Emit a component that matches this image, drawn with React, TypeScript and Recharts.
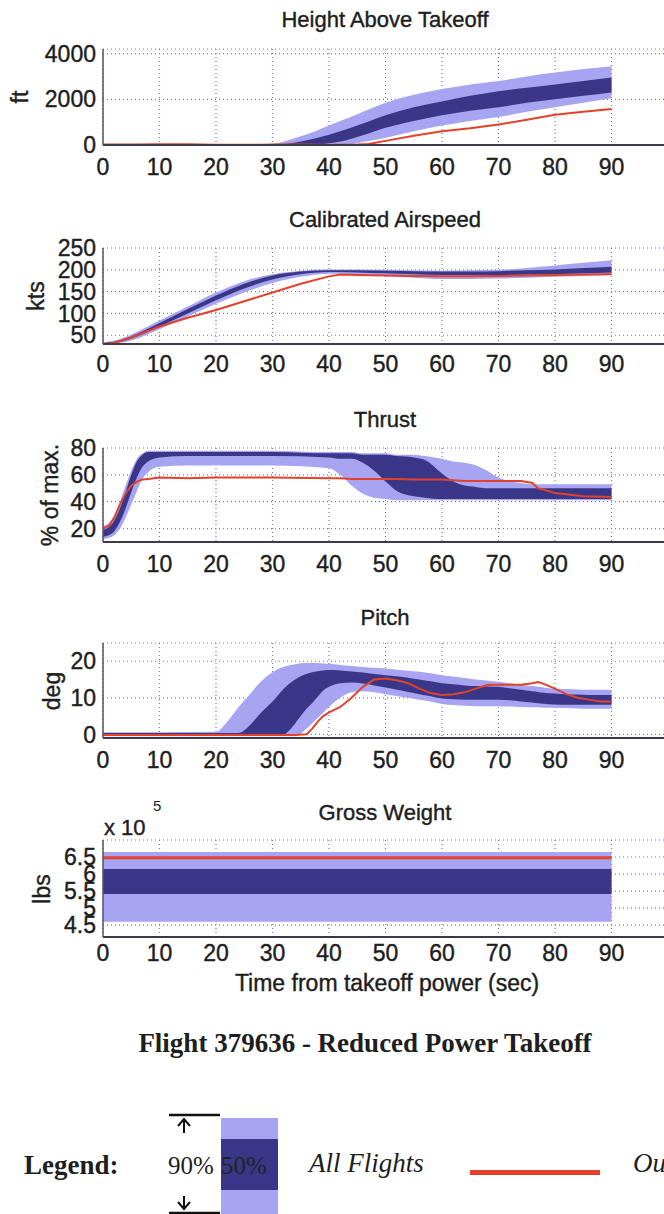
import { ComposedChart, Area, Line, XAxis, YAxis, CartesianGrid } from 'recharts';

const SANS = "'Liberation Sans', Arial, sans-serif";
const SERIF = "'Liberation Serif', 'Times New Roman', serif";
const LIGHT = '#a7a4f2';
const DARK = '#3a3788';
const RED = '#e3412a';
const GRID = '#7474c6';
const TEXT = '#1e1e1e';

const X_TICKS = [0, 10, 20, 30, 40, 50, 60, 70, 80, 90];

// Height above takeoff (ft)
const HEIGHT_T = [0, 5, 10, 15, 20, 25, 28, 30, 32, 35, 38, 40, 42, 45, 47, 50, 55, 60, 65, 70, 75, 80, 85, 90];
const HEIGHT_HI90 = [0, 0, 0, 0, 0, 0, 0, 40, 150, 380, 650, 850, 1050, 1350, 1550, 1850, 2200, 2450, 2650, 2800, 3000, 3170, 3320, 3450];
const HEIGHT_HI50 = [0, 0, 0, 0, 0, 0, 0, 0, 40, 150, 320, 450, 600, 850, 1030, 1300, 1650, 1900, 2150, 2350, 2500, 2650, 2800, 2950];
const HEIGHT_LO50 = [0, 0, 0, 0, 0, 0, 0, 0, 0, 0, 30, 80, 150, 350, 500, 750, 1050, 1300, 1500, 1650, 1850, 2000, 2150, 2300];
const HEIGHT_LO90 = [0, 0, 0, 0, 0, 0, 0, 0, 0, 0, 0, 0, 0, 80, 170, 320, 600, 850, 1050, 1230, 1450, 1650, 1850, 2050];
const HEIGHT_OUT = [20, 25, 35, 30, 15, 10, 15, 20, 20, 20, 15, 15, 15, 20, 40, 180, 400, 600, 730, 900, 1100, 1320, 1450, 1580];

// Calibrated airspeed (kts)
const CAS_T = [0, 2, 5, 10, 15, 20, 25, 30, 35, 40, 42, 45, 50, 55, 60, 65, 70, 75, 80, 85, 90];
const CAS_HI90 = [34, 38, 52, 84, 116, 148, 174, 190, 198, 201, 201, 201, 200, 199, 198, 199, 200, 204, 210, 216, 222];
const CAS_HI50 = [32, 35, 48, 78, 110, 141, 168, 187, 196, 199, 199, 199, 198, 197, 196, 196, 197, 199, 201, 204, 207];
const CAS_LO50 = [30, 32, 42, 70, 100, 130, 157, 178, 190, 195, 195, 194, 192, 190, 188, 188, 188, 189, 190, 192, 194];
const CAS_LO90 = [30, 31, 38, 64, 93, 122, 148, 170, 184, 191, 191, 190, 186, 182, 179, 179, 180, 182, 184, 186, 188];
const CAS_OUT = [30, 33, 45, 70, 90, 108, 128, 148, 168, 185, 189, 188, 187, 186, 185, 185, 186, 187, 188, 189, 190];

// Thrust (% of max.)
const THR_T = [0, 1, 2, 3, 4, 5, 6, 7, 8, 10, 15, 20, 30, 40, 42, 44, 46, 48, 50, 52, 55, 57, 60, 62, 64, 66, 68, 70, 72, 74, 76, 77, 78, 80, 85, 90];
const THR_HI90 = [22, 24, 30, 40, 52, 63, 72, 76, 78, 78, 78, 78, 78, 77, 77, 77, 76, 76, 76, 75, 75, 74, 72, 70, 69, 67, 63, 58, 55, 54, 53, 53, 53, 53, 53, 53];
const THR_HI50 = [19, 21, 26, 35, 47, 60, 70, 75, 77, 77, 77, 77, 77, 76, 76, 76, 75, 75, 75, 74, 73, 71, 61, 55, 52, 51, 50, 50, 50, 50, 50, 50, 50, 50, 50, 50];
const THR_LO50 = [14, 15, 18, 25, 35, 47, 58, 66, 70, 73, 74, 74, 74, 73, 72, 72, 69, 63, 55, 48, 44, 43, 42, 42, 42, 42, 42, 42, 42, 42, 42, 42, 42, 42, 42, 42];
const THR_LO90 = [12, 13, 15, 20, 28, 38, 48, 57, 62, 66, 67, 67, 67, 65, 60, 52, 46, 43, 42, 41, 41, 41, 41, 41, 41, 41, 41, 41, 41, 41, 41, 41, 41, 41, 41, 41];
const THR_OUT = [20, 22, 28, 38, 46, 52, 55, 56.5, 57, 58, 57.5, 58, 58, 57.5, 57.5, 57, 57, 57, 57, 57, 56.5, 56.5, 56.5, 56, 55.5, 55.5, 55.5, 55.5, 55.5, 55.5, 54, 50, 49, 46.5, 44, 43.5];

// Pitch (deg)
const PITCH_T = [0, 10, 20, 22, 24, 26, 28, 30, 32, 34, 36, 37, 38, 39, 40, 42, 44, 46, 48, 50, 52, 54, 56, 58, 60, 62, 64, 66, 68, 70, 72, 74, 76, 77, 78, 80, 82, 84, 86, 88, 90];
const PITCH_HI90 = [0.6, 0.6, 0.7, 3.5, 7.5, 11, 14.5, 17, 18.5, 19.2, 19.5, 19.5, 19.5, 19.4, 19.3, 19, 18.7, 18.4, 18.2, 18, 17.7, 17.4, 17.1, 16.7, 16.2, 15.8, 15.4, 15, 14.7, 14.4, 14, 13.6, 13.2, 13, 12.8, 12.5, 12.4, 12.3, 12.2, 12.2, 12.2];
const PITCH_HI50 = [0.4, 0.4, 0.4, 0.4, 0.4, 2.5, 6, 9, 12.5, 15, 16.5, 17, 17.3, 17.5, 17.6, 17.5, 17.2, 16.9, 16.5, 16.2, 15.9, 15.5, 15, 14.5, 14, 13.7, 13.4, 13.2, 13.1, 13, 12.6, 12.2, 11.8, 11.6, 11.4, 11.2, 11, 10.9, 10.8, 10.8, 10.8];
const PITCH_LO50 = [-0.3, -0.3, -0.3, -0.3, -0.3, -0.3, -0.3, -0.3, 0, 3, 7, 8.5, 10.3, 12, 13, 14, 14.2, 13.9, 13.4, 12.8, 12.2, 11.6, 11, 10.4, 9.8, 9.6, 9.5, 9.5, 9.5, 9.5, 9.3, 9, 8.7, 8.5, 8.4, 8.2, 8.1, 8.1, 8.1, 8.1, 8.1];
const PITCH_LO90 = [-0.5, -0.5, -0.5, -0.5, -0.5, -0.5, -0.5, -0.5, -0.5, -0.5, 1.5, 3, 4.5, 6, 7.5, 10, 11.5, 11.8, 11.5, 11, 10.5, 10, 9.5, 9, 8.3, 8, 7.8, 7.7, 7.7, 7.7, 7.6, 7.5, 7.4, 7.4, 7.3, 7.3, 7.2, 7.1, 7, 7, 7];
const PITCH_OUT = [-0.2, -0.2, -0.2, -0.2, -0.2, -0.2, -0.2, -0.2, -0.2, -0.2, 0, 1.5, 3.5, 5, 6, 7.5, 10, 13, 15, 15.3, 14.8, 14, 12.5, 11.3, 10.8, 11, 11.5, 12.5, 13.5, 13.6, 13.6, 13.6, 14, 14.3, 13.8, 12.5, 11, 10, 9.5, 9, 9];

// Gross weight (x 10^5 lbs)
const GW_T = [0, 30, 60, 90];
const GW_HI90 = [6.65, 6.65, 6.65, 6.65];
const GW_HI50 = [6.15, 6.15, 6.15, 6.15];
const GW_LO50 = [5.41, 5.41, 5.41, 5.41];
const GW_LO90 = [4.6, 4.6, 4.6, 4.6];
const GW_OUT = [6.48, 6.48, 6.48, 6.48];

const build = (t: number[], lo90: number[], hi90: number[], lo50: number[], hi50: number[], out: number[]) =>
  t.map((x, i) => ({ t: x, band90: [lo90[i], hi90[i]], band50: [lo50[i], hi50[i]], outlier: out[i] }));

// slightly heavier text, the scan is blurry/bold
const HEAVY = { WebkitTextStroke: `0.4px ${TEXT}` } as const;

interface PanelProps {
  title: string;
  titleY: number;
  yLabel: string;
  yLabelX: number;
  plotTop: number;
  plotBottom: number;
  domain: [number, number];
  yTicks: number[];
  data: ReturnType<typeof build>;
  tickGap?: number;
  redWidth?: number;
}

function Panel(p: PanelProps) {
  const chartTop = p.plotTop - 20;
  const height = p.plotBottom - p.plotTop + 60;
  const tickFont = { fill: TEXT, fontSize: 23, fontFamily: SANS, stroke: TEXT, strokeWidth: 0.4 };
  return (
    <>
      <div
        style={{
          position: 'absolute', left: 385, top: p.titleY, transform: 'translate(-50%, -50%)',
          fontFamily: SANS, fontSize: 22, lineHeight: 1, color: TEXT, whiteSpace: 'nowrap', ...HEAVY,
        }}
      >
        {p.title}
      </div>
      <div
        style={{
          position: 'absolute', left: p.yLabelX, top: (p.plotTop + p.plotBottom) / 2,
          transform: 'translate(-50%, -50%) rotate(-90deg)',
          fontFamily: SANS, fontSize: 23, lineHeight: 1, color: TEXT, whiteSpace: 'nowrap', ...HEAVY,
        }}
      >
        {p.yLabel}
      </div>
      <div style={{ position: 'absolute', left: 0, top: chartTop }}>
        <ComposedChart width={700} height={height} data={p.data} margin={{ top: 20, right: 32, bottom: 10, left: 0 }}>
          <CartesianGrid stroke={GRID} strokeDasharray="1 3" strokeWidth={1.2} />
          <XAxis
            dataKey="t"
            type="number"
            domain={[0, 100]}
            ticks={X_TICKS}
            height={30}
            tickLine={false}
            tickSize={4}
            tickMargin={p.tickGap ?? 10}
            axisLine={{ stroke: '#3a3a4a', strokeWidth: 2 }}
            tick={tickFont}
            interval={0}
          />
          <YAxis
            type="number"
            domain={p.domain}
            ticks={p.yTicks}
            allowDataOverflow
            width={103}
            tickLine={false}
            tickSize={4}
            tickMargin={3}
            axisLine={{ stroke: '#555566', strokeWidth: 1.5 }}
            tick={tickFont}
            interval={0}
          />
          <Area dataKey="band90" type="monotone" stroke="none" fill={LIGHT} fillOpacity={1} isAnimationActive={false} />
          <Area dataKey="band50" type="monotone" stroke="none" fill={DARK} fillOpacity={1} isAnimationActive={false} />
          <Line dataKey="outlier" type="linear" stroke={RED} strokeWidth={p.redWidth ?? 2} dot={false} activeDot={false} isAnimationActive={false} />
        </ComposedChart>
      </div>
    </>
  );
}

export default function App() {
  return (
    <div style={{ position: 'absolute', left: 0, top: 0, width: 664, height: 1214, overflow: 'hidden', background: '#fff' }}>
      <Panel
        title="Height Above Takeoff" titleY={20} yLabel="ft" yLabelX={20}
        plotTop={49} plotBottom={145} domain={[0, 4200]} yTicks={[0, 2000, 4000]}
        data={build(HEIGHT_T, HEIGHT_LO90, HEIGHT_HI90, HEIGHT_LO50, HEIGHT_HI50, HEIGHT_OUT)}
      />
      <Panel
        title="Calibrated Airspeed" titleY={220} yLabel="kts" yLabelX={36}
        plotTop={248} plotBottom={344} domain={[30, 250]} yTicks={[50, 100, 150, 200, 250]}
        data={build(CAS_T, CAS_LO90, CAS_HI90, CAS_LO50, CAS_HI50, CAS_OUT)} tickGap={8}
      />
      <Panel
        title="Thrust" titleY={420} yLabel="% of max." yLabelX={50}
        plotTop={448} plotBottom={542} domain={[10, 80]} yTicks={[20, 40, 60, 80]}
        data={build(THR_T, THR_LO90, THR_HI90, THR_LO50, THR_HI50, THR_OUT)}
      />
      <Panel
        title="Pitch" titleY={618} yLabel="deg" yLabelX={52}
        plotTop={643} plotBottom={738} domain={[-1, 25]} yTicks={[0, 10, 20]}
        data={build(PITCH_T, PITCH_LO90, PITCH_HI90, PITCH_LO50, PITCH_HI50, PITCH_OUT)}
      />
      <Panel
        title="Gross Weight" titleY={813} yLabel="lbs" yLabelX={42}
        plotTop={840} plotBottom={937} domain={[4.15, 7]} yTicks={[4.5, 5, 5.5, 6, 6.5]}
        data={build(GW_T, GW_LO90, GW_HI90, GW_LO50, GW_HI50, GW_OUT)} tickGap={4} redWidth={3}
      />
      <div style={{ position: 'absolute', left: 104, top: 817, fontFamily: SANS, fontSize: 22, lineHeight: 1, color: TEXT, whiteSpace: 'nowrap', ...HEAVY }}>
        x 10
      </div>
      <div style={{ position: 'absolute', left: 153, top: 798, fontFamily: SANS, fontSize: 15, lineHeight: 1, color: TEXT }}>
        5
      </div>
      <div
        style={{
          position: 'absolute', left: 387, top: 983, transform: 'translate(-50%, -50%)',
          fontFamily: SANS, fontSize: 23, lineHeight: 1, color: TEXT, whiteSpace: 'nowrap', ...HEAVY,
        }}
      >
        Time from takeoff power (sec)
      </div>
      <div
        style={{
          position: 'absolute', left: 365, top: 1043, transform: 'translate(-50%, -50%)',
          fontFamily: SERIF, fontWeight: 'bold', fontSize: 27, lineHeight: 1, color: TEXT, whiteSpace: 'nowrap',
        }}
      >
        Flight 379636 - Reduced Power Takeoff
      </div>
      <svg style={{ position: 'absolute', left: 0, top: 1100 }} width={664} height={114}>
        <text x={24} y={74} fontFamily={SERIF} fontWeight="bold" fontSize={27} fill={TEXT}>Legend:</text>
        <line x1={169} x2={220} y1={15} y2={15} stroke="#111" strokeWidth={2.5} />
        <line x1={169} x2={220} y1={113} y2={113} stroke="#111" strokeWidth={2.5} />
        <line x1={184} x2={184} y1={20} y2={33} stroke="#111" strokeWidth={2} />
        <path d="M178,26 L184,19 L190,26" fill="none" stroke="#111" strokeWidth={2} />
        <line x1={184} x2={184} y1={96} y2={109} stroke="#111" strokeWidth={2} />
        <path d="M178,102 L184,109 L190,102" fill="none" stroke="#111" strokeWidth={2} />
        <text x={168} y={74} fontFamily={SERIF} fontSize={25} fill={TEXT}>90%</text>
        <rect x={221} y={18} width={57} height={96} fill={LIGHT} />
        <rect x={221} y={39} width={57} height={51} fill={DARK} />
        <text x={221} y={74} fontFamily={SERIF} fontSize={25} fill="#222">50%</text>
        <text x={309} y={72} fontFamily={SERIF} fontStyle="italic" fontSize={27} fill={TEXT}>All Flights</text>
        <rect x={470} y={70} width={130} height={5} fill={RED} />
        <text x={633} y={72} fontFamily={SERIF} fontStyle="italic" fontSize={27} fill={TEXT}>Outlier Flight</text>
      </svg>
    </div>
  );
}
